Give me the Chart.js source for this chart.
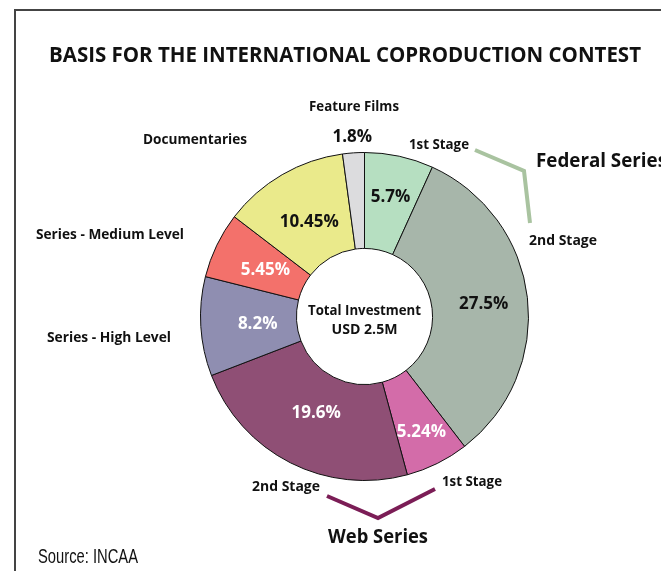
<!DOCTYPE html>
<html>
<head>
<meta charset="utf-8">
<script src="https://cdn.jsdelivr.net/npm/chart.js@4/dist/chart.umd.min.js"></script>
<style>
  html, body { margin: 0; padding: 0; background: #ffffff; }
  #wrap { width: 661px; height: 571px; position: relative; }
</style>
</head>
<body>
<div id="wrap"><canvas id="c" width="661" height="571"></canvas></div>
<script>
// ---- data ----
const categories = [
  'Federal Series - 1st Stage',
  'Federal Series - 2nd Stage',
  'Web Series - 1st Stage',
  'Web Series - 2nd Stage',
  'Series - High Level',
  'Series - Medium Level',
  'Documentaries',
  'Feature Films'
];
const shares = [5.7, 27.5, 5.24, 19.6, 8.2, 5.45, 10.45, 1.8];
const sliceColors = ['#b6dfc1', '#a7b6aa', '#d36ca9', '#8f4f75', '#8f8eb1', '#f3716b', '#eaea8b', '#dcdcde'];
const valueTextColors = ['#111', '#111', '#fff', '#fff', '#fff', '#fff', '#111', '#111'];
const titleText = 'BASIS FOR THE INTERNATIONAL COPRODUCTION CONTEST';
const centerLines = ['Total Investment', 'USD 2.5M'];
const sourceText = 'Source: INCAA';

// label distance from centre, per slice (last one sits outside the ring)
const labelRadius = [123, 120, 128, 107, 107, 110, 110, 181];

const FONT = '"Open Sans", "DejaVu Sans", sans-serif';
const NARROW = '"Liberation Sans Narrow", "Liberation Sans", sans-serif';

function drawText(ctx, str, x, baseline, o) {
  ctx.save();
  ctx.font = (o.weight || 'bold') + ' ' + o.size + 'px ' + (o.family || FONT);
  const w = ctx.measureText(str).width;
  const sx = o.width ? o.width / w : 1;
  ctx.translate(x, baseline);
  ctx.scale(sx, 1);
  ctx.textAlign = o.align || 'left';
  ctx.textBaseline = 'alphabetic';
  ctx.fillStyle = o.color || '#111';
  ctx.fillText(str, 0, 0);
  ctx.restore();
}

const decor = {
  id: 'decor',
  afterDraw(chart) {
    const ctx = chart.ctx;
    ctx.save();
    ctx.strokeStyle = '#444';
    ctx.lineWidth = 2;
    ctx.beginPath();
    ctx.moveTo(15, 571); ctx.lineTo(15, 10); ctx.lineTo(661, 10);
    ctx.stroke();
    ctx.restore();

    drawText(ctx, titleText, 49, 62, { size: 21, width: 592 });

    const meta = chart.getDatasetMeta(0);
    meta.data.forEach((arc, i) => {
      const txt = shares[i] + '%';
      const mid = (arc.startAngle + arc.endAngle) / 2;
      const r = labelRadius[i];
      const p = { x: arc.x + Math.cos(mid) * r, y: arc.y + Math.sin(mid) * r };
      drawText(ctx, txt, p.x, p.y + 17 * 0.36, { size: 17, align: 'center', color: valueTextColors[i] });
    });

    const cx = meta.data[0].x;
    drawText(ctx, centerLines[0], cx, 315, { size: 14, align: 'center', width: 113 });
    drawText(ctx, centerLines[1], cx, 334, { size: 14, align: 'center', width: 66 });

    const L = { size: 14 };
    drawText(ctx, 'Feature Films', 309, 111, Object.assign({ width: 90 }, L));
    drawText(ctx, 'Documentaries', 143, 144, Object.assign({ width: 104 }, L));
    drawText(ctx, '1st Stage', 409, 149, Object.assign({ width: 60 }, L));
    drawText(ctx, '2nd Stage', 529, 245, Object.assign({ width: 68 }, L));
    drawText(ctx, 'Series - Medium Level', 36, 239, Object.assign({ width: 148 }, L));
    drawText(ctx, 'Series - High Level', 47, 342, Object.assign({ width: 124 }, L));
    drawText(ctx, '2nd Stage', 252, 491, Object.assign({ width: 68 }, L));
    drawText(ctx, '1st Stage', 442, 486, Object.assign({ width: 60 }, L));

    ctx.save();
    ctx.lineWidth = 4;
    ctx.lineJoin = 'miter';
    ctx.strokeStyle = '#a9c3a0';
    ctx.beginPath();
    ctx.moveTo(475, 150); ctx.lineTo(524, 171); ctx.lineTo(530, 223);
    ctx.stroke();
    ctx.strokeStyle = '#7b1d56';
    ctx.beginPath();
    ctx.moveTo(327, 496); ctx.lineTo(378, 518); ctx.lineTo(435, 489);
    ctx.stroke();
    ctx.restore();

    drawText(ctx, 'Federal Series', 536, 167, { size: 20, weight: 'bold', width: 131 });
    drawText(ctx, 'Web Series', 328, 543, { size: 20, weight: 'bold', width: 100 });
    drawText(ctx, sourceText, 38, 563, { size: 20, weight: 'normal', family: NARROW, width: 100 });
  }
};

new Chart(document.getElementById('c'), {
  type: 'doughnut',
  data: {
    labels: categories,
    datasets: [{
      data: shares,
      backgroundColor: sliceColors,
      borderColor: '#111',
      borderWidth: 1
    }]
  },
  options: {
    responsive: false,
    animation: false,
    devicePixelRatio: 1,
    cutout: '41.5%',
    layout: { padding: { left: 200, right: 132, top: 152, bottom: 90 } },
    plugins: {
      legend: { display: false },
      tooltip: { enabled: false },
      title: { display: false }
    }
  },
  plugins: [decor]
});
</script>
</body>
</html>
